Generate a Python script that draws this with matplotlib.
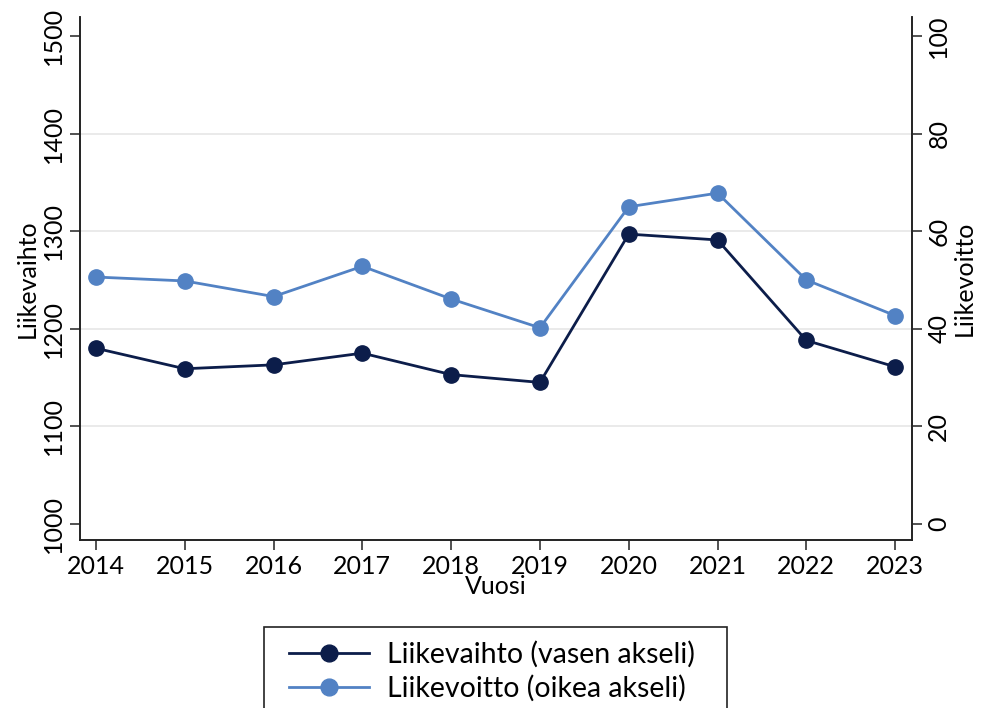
import matplotlib
matplotlib.use("Agg")
import matplotlib.pyplot as plt
from matplotlib.patches import Rectangle

plt.rcParams['font.family'] = ['Lato', 'DejaVu Sans']

years = [2014, 2015, 2016, 2017, 2018, 2019, 2020, 2021, 2022, 2023]
liikevaihto = [1180, 1159, 1163, 1175, 1153, 1145, 1297, 1291, 1188, 1161]
liikevoitto = [50.6, 49.8, 46.6, 52.8, 46.1, 40.2, 65.0, 67.8, 50.0, 42.7]

left_ticks = [1000, 1100, 1200, 1300, 1400, 1500]
right_ticks = [0, 20, 40, 60, 80, 100]

navy = '#0c1d4a'
blue = '#5282c4'

W, H = 982, 708
fig = plt.figure(figsize=(W / 100, H / 100), dpi=100)
ax = fig.add_axes([80 / W, (H - 540) / H, (912 - 80) / W, (540 - 17) / H])
ax2 = ax.twinx()

ylo, yhi = 983.5, 1519.5
ax.set_ylim(ylo, yhi)
ax2.set_ylim((ylo - 1000) / 5, (yhi - 1000) / 5)
ax.set_xlim(2014 - 0.18, 2023 + 0.19)

ln1, = ax.plot(years, liikevaihto, color=navy, lw=2, marker='o', ms=11,
               label='Liikevaihto (vasen akseli)', zorder=3)
ln2, = ax2.plot(years, liikevoitto, color=blue, lw=2, marker='o', ms=11,
                label='Liikevoitto (oikea akseli)', zorder=3)

for y in [1100, 1200, 1300, 1400]:
    ax.axhline(y, color='#e6e6e6', lw=1.2, zorder=0)

fs = 18
ax.set_xticks(years)
ax.set_xticklabels([str(y) for y in years], fontsize=fs)
ax.set_yticks(left_ticks)
ax.set_yticklabels([str(v) for v in left_ticks], fontsize=fs, rotation=90, va='center')
ax2.set_yticks(right_ticks)
ax2.set_yticklabels([str(v) for v in right_ticks], fontsize=fs, rotation=90, va='center')

for a in (ax, ax2):
    a.tick_params(length=7, width=1.2, color='#333333', pad=4)
    a.spines['top'].set_visible(False)
    for s in ('left', 'right', 'bottom'):
        a.spines[s].set_linewidth(1.2)
        a.spines[s].set_color('#222222')

ax.set_xlabel('Vuosi', fontsize=fs, labelpad=-2)
ax.set_ylabel('Liikevaihto', fontsize=fs, labelpad=2)
ax2.set_ylabel('Liikevoitto', fontsize=fs, rotation=90, labelpad=2)

# legend frame (runs past the lower edge of the figure)
fig.patches.append(Rectangle((264 / W, -10 / H), (727 - 264) / W, (H - 627 + 10) / H,
                             transform=fig.transFigure, fill=False,
                             edgecolor='#222222', linewidth=1.2))
leg = fig.legend(handles=[ln1, ln2], loc='upper left',
                 bbox_to_anchor=(289 / W, (H - 641) / H), fontsize=20.5,
                 frameon=False, handlelength=2.8, borderpad=0,
                 labelspacing=0.25, handletextpad=0.65, borderaxespad=0,
                 markerscale=1.1)

fig.savefig('out.png', dpi=100)
